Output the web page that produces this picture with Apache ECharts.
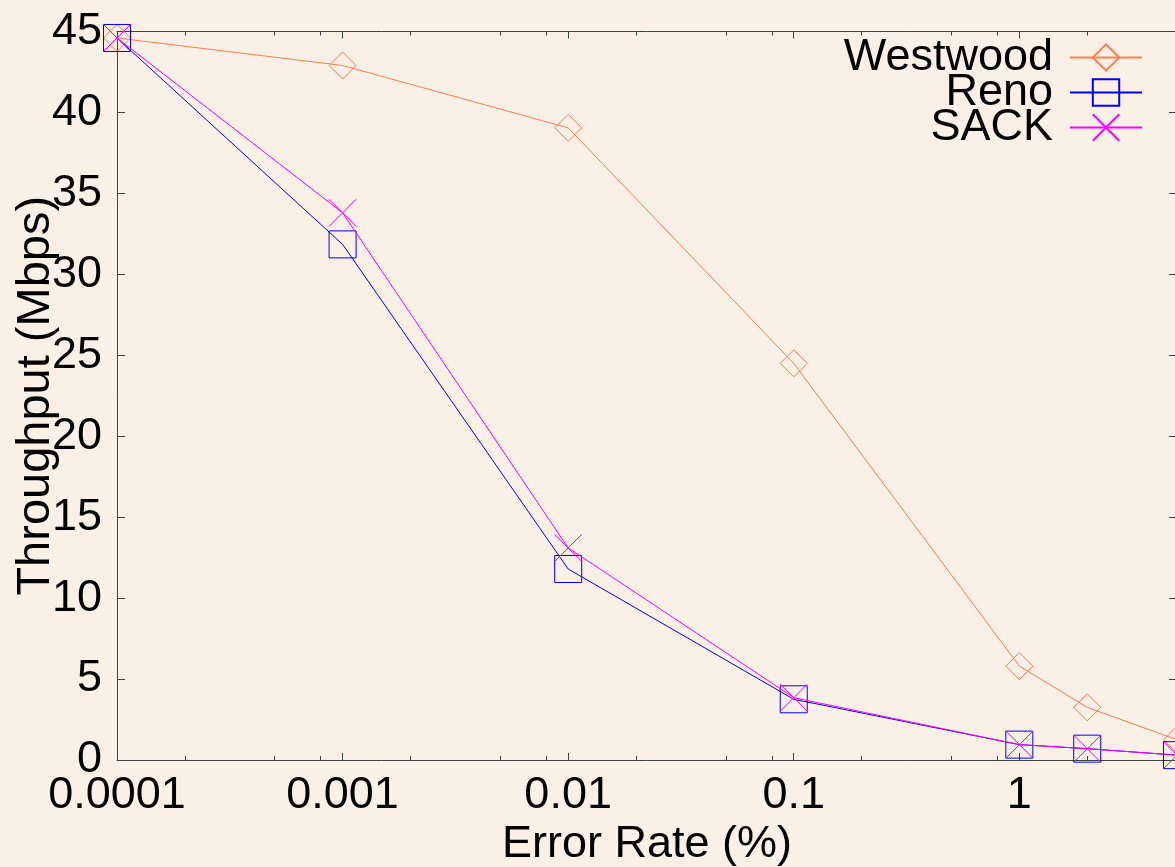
<!DOCTYPE html>
<html>
<head>
<meta charset="utf-8">
<script src="https://cdn.jsdelivr.net/npm/echarts@6/dist/echarts.min.js"></script>
<style>
html,body{margin:0;padding:0;background:#faf0e6;}
#chart{width:1175px;height:867px;}
</style>
</head>
<body>
<div id="chart"></div>
<script>
// ---- data ----
const errorRates = [0.0001, 0.001, 0.01, 0.1, 1, 2, 5];
const westwood = [44.6, 42.9, 39.05, 24.5, 5.8, 3.25, 1.25];
const reno     = [44.6, 31.85, 11.8, 3.75, 0.95, 0.7, 0.3];
const sack     = [44.6, 33.8, 13.1, 3.85, 0.95, 0.7, 0.3];
const xMajorTicks = [0.0001, 0.001, 0.01, 0.1, 1];
const xTickLabels = ['0.0001', '0.001', '0.01', '0.1', '1'];
const xMinorTicks = [0.0002, 0.0005, 0.0008, 0.002, 0.005, 0.008, 0.02, 0.05, 0.08, 0.2, 0.5, 0.8, 2, 5];
const seriesNames = ['Westwood', 'Reno', 'SACK'];

// ---- build ----
const FONT = 'Liberation Sans, Arial, sans-serif';
const FS = 45;
const axisColor = '#404040';
const xMin = 0.0001, xMax = 5;

function pairs(ys) { return errorRates.map((x, i) => [x, ys[i]]); }
function xLabel(v) {
  for (let i = 0; i < xMajorTicks.length; i++) {
    if (Math.abs(Math.log10(v / xMajorTicks[i])) < 1e-6) return xTickLabels[i];
  }
  return '';
}

function xAxisDef(position, ticks, len, withLine, withLabels) {
  const ax = {
    type: 'log', min: xMin, max: xMax, position: position, gridIndex: 0,
    axisLine: { show: withLine, onZero: false, lineStyle: { color: axisColor, width: 1 } },
    axisTick: { show: true, inside: true, length: len, customValues: ticks, lineStyle: { color: axisColor, width: 1 } },
    axisLabel: { show: withLabels, customValues: ticks, formatter: xLabel,
      fontFamily: FONT, fontSize: FS, color: '#000', margin: 13 },
    splitLine: { show: false }, minorTick: { show: false }
  };
  if (withLabels) {
    ax.name = 'Error Rate (%)';
    ax.nameLocation = 'middle';
    ax.nameGap = 62;
    ax.nameMoveOverlap = false;
    ax.nameTextStyle = { fontFamily: FONT, fontSize: FS, color: '#000' };
  }
  return ax;
}

function yAxisDef(position, withLabels) {
  const ax = {
    type: 'value', min: 0, max: 45, interval: 5, position: position, gridIndex: 0,
    axisLine: { show: true, onZero: false, lineStyle: { color: axisColor, width: 1 } },
    axisTick: { show: true, inside: true, length: 8, lineStyle: { color: axisColor, width: 1 } },
    axisLabel: { show: withLabels, fontFamily: FONT, fontSize: FS, color: '#000', margin: 15 },
    splitLine: { show: false }
  };
  if (withLabels) {
    ax.name = 'Throughput (Mbps)';
    ax.nameLocation = 'middle';
    ax.nameGap = 57;
    ax.nameMoveOverlap = false;
    ax.nameTextStyle = { fontFamily: FONT, fontSize: 47, color: '#000' };
  }
  return ax;
}

const colors = ['#ff7f50', '#0000ff', '#ff00ff'];
const symbols = ['diamond', 'rect', 'path://M0,0L10,10M10,0L0,10'];
const values = [westwood, reno, sack];

const series = seriesNames.map((name, i) => ({
  name: name,
  type: 'line',
  xAxisIndex: 0, yAxisIndex: 0,
  data: pairs(values[i]),
  symbol: symbols[i],
  symbolSize: 27,
  showAllSymbol: true,
  lineStyle: { color: colors[i], width: 1 },
  itemStyle: { color: 'rgba(0,0,0,0)', borderColor: colors[i], borderWidth: 1 },
  emphasis: { disabled: true },
  z: 2 + i
}));

const chart = echarts.init(document.getElementById('chart'), null, { renderer: 'canvas' });
chart.setOption({
  backgroundColor: '#faf0e6',
  animation: false,
  grid: { left: 117, right: -2, top: 31.5, bottom: 107, containLabel: false, outerBoundsMode: 'none' },
  xAxis: [
    xAxisDef('bottom', xMajorTicks, 7, true, true),
    xAxisDef('bottom', xMinorTicks, 4, false, false),
    xAxisDef('top', xMajorTicks, 7, true, false),
    xAxisDef('top', xMinorTicks, 4, false, false)
  ],
  yAxis: [
    yAxisDef('left', true),
    yAxisDef('right', false)
  ],
  legend: {
    data: seriesNames,
    orient: 'vertical',
    align: 'right',
    right: 32,
    top: 35,
    padding: 0,
    itemGap: -10,
    itemWidth: 72,
    itemHeight: 33,
    selectedMode: false,
    textStyle: { fontFamily: FONT, fontSize: FS, color: '#000', padding: [0, 12, 0, 0] }
  },
  series: series
});
</script>
</body>
</html>
